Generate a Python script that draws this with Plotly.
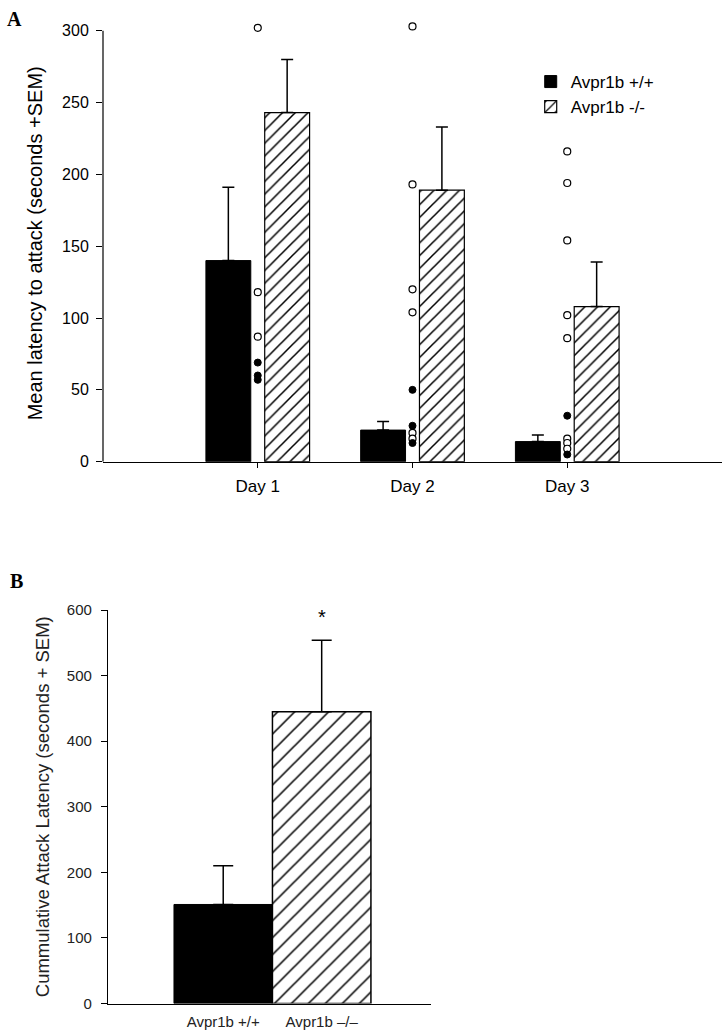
import plotly.graph_objects as go

# ---------------- data ----------------
days = ["Day 1", "Day 2", "Day 3"]
wt_mean = [140, 22, 14]
wt_sem = [51, 6, 4.5]
ko_mean = [243, 189, 108]
ko_sem = [37, 44, 31]

# individual animals (filled = +/+, open = -/-)
wt_points = {
    "Day 1": [69, 60, 57],
    "Day 2": [50, 25, 13],
    "Day 3": [32, 5],
}
ko_points = {
    "Day 1": [302, 118, 87],
    "Day 2": [303, 193, 120, 104, 20, 16],
    "Day 3": [216, 194, 154, 102, 86, 16, 13, 9],
}

groups_b = ["Avpr1b +/+", "Avpr1b \u2013/\u2013"]
cum_mean = [151, 445]
cum_sem = [59, 109]

legend_names = ["Avpr1b +/+", "Avpr1b -/-"]

FONT = "Liberation Sans, Arial, sans-serif"

fig = go.Figure()

# ---------------- panel A ----------------
fig.add_trace(go.Bar(
    x=days, y=wt_mean, name=legend_names[0], width=0.29, offset=-0.335,
    marker=dict(color="black", line=dict(color="black", width=1)),
    error_y=dict(type="data", symmetric=False, array=wt_sem, arrayminus=[0] * len(days),
                 color="black", thickness=1.5, width=6),
    xaxis="x", yaxis="y", showlegend=True,
))
fig.add_trace(go.Bar(
    x=days, y=ko_mean, name=legend_names[1], width=0.29, offset=0.045,
    marker=dict(color="white", line=dict(color="black", width=1.2),
                pattern=dict(shape="/", fgcolor="black", fgopacity=1, bgcolor="white",
                             size=9, solidity=0.17)),
    error_y=dict(type="data", symmetric=False, array=ko_sem, arrayminus=[0] * len(days),
                 color="black", thickness=1.5, width=6),
    xaxis="x", yaxis="y", showlegend=True,
))

wx, wy, kx, ky = [], [], [], []
for d in days:
    for v in wt_points[d]:
        wx.append(d); wy.append(v)
    for v in ko_points[d]:
        kx.append(d); ky.append(v)

fig.add_trace(go.Scatter(
    x=kx, y=ky, mode="markers", showlegend=False, cliponaxis=False,
    marker=dict(symbol="circle", size=7, color="white", line=dict(color="black", width=1.2)),
    xaxis="x", yaxis="y",
))
fig.add_trace(go.Scatter(
    x=wx, y=wy, mode="markers", showlegend=False, cliponaxis=False,
    marker=dict(symbol="circle", size=7, color="black", line=dict(color="black", width=1)),
    xaxis="x", yaxis="y",
))

# ---------------- panel B ----------------
fig.add_trace(go.Bar(
    x=[groups_b[0]], y=[cum_mean[0]], width=1.0, showlegend=False,
    marker=dict(color="black", line=dict(color="black", width=1)),
    error_y=dict(type="data", symmetric=False, array=[cum_sem[0]], arrayminus=[0],
                 color="black", thickness=1.5, width=10),
    xaxis="x2", yaxis="y2",
))
fig.add_trace(go.Bar(
    x=[groups_b[1]], y=[cum_mean[1]], width=1.0, showlegend=False,
    marker=dict(color="white", line=dict(color="black", width=1.5),
                pattern=dict(shape="/", fgcolor="black", fgopacity=1, bgcolor="white",
                             size=12, solidity=0.13)),
    error_y=dict(type="data", symmetric=False, array=[cum_sem[1]], arrayminus=[0],
                 color="black", thickness=1.5, width=10),
    xaxis="x2", yaxis="y2",
))

# y range of panel A extends slightly above 300 so points at the 300 s cutoff stay visible
A_TOP = 304
px_per_unit = (461.7 - 30.7) / 300
a_top_px = 30.7 - (A_TOP - 300) * px_per_unit

fig.update_layout(
    width=727, height=1031,
    margin=dict(l=0, r=0, t=0, b=0),
    paper_bgcolor="white", plot_bgcolor="white",
    font=dict(family=FONT, color="black"),
    barmode="overlay",
    showlegend=True,
    legend=dict(x=0.73, y=1 - 64 / 1031, xanchor="left", yanchor="top",
                font=dict(size=17, family=FONT, color="black"),
                bgcolor="rgba(0,0,0,0)", itemwidth=30, tracegroupgap=0),
    xaxis=dict(domain=[103 / 727, 722 / 727], anchor="y", type="category",
               categoryorder="array", categoryarray=days, range=[-1.0, 3.0],
               showline=True, linecolor="black", linewidth=1.2, showgrid=False,
               ticks="outside", ticklen=5, tickcolor="black", zeroline=False,
               automargin=False, ticklabelstandoff=4,
               tickfont=dict(size=17, family=FONT)),
    yaxis=dict(domain=[(1031 - 461.7) / 1031, (1031 - a_top_px) / 1031], anchor="x",
               range=[0, A_TOP], tickvals=[0, 50, 100, 150, 200, 250, 300],
               showline=False, showgrid=False,
               ticks="outside", ticklen=6, tickcolor="black", zeroline=False,
               automargin=False, ticklabelstandoff=4,
               tickfont=dict(size=16, family=FONT),
               title=dict(text="Mean latency to attack (seconds +SEM)",
                          font=dict(size=20, family=FONT), standoff=14)),
    xaxis2=dict(domain=[108 / 727, 431 / 727], anchor="y2", type="category",
                categoryorder="array", categoryarray=groups_b, range=[-1.17, 2.11],
                showline=True, linecolor="black", linewidth=1.2, showgrid=False,
                ticks="", zeroline=False, automargin=False, ticklabelstandoff=4,
                tickfont=dict(size=15, family=FONT, color="#222")),
    yaxis2=dict(domain=[(1031 - 1003.5) / 1031, (1031 - 610) / 1031], anchor="x2",
                range=[0, 600], tickvals=[0, 100, 200, 300, 400, 500, 600],
                showline=True, linecolor="black", linewidth=1.2, showgrid=False,
                ticks="outside", ticklen=6, tickcolor="black", zeroline=False,
                automargin=False, ticklabelstandoff=6,
                tickfont=dict(size=15, family=FONT, color="#222"),
                title=dict(text="Cummulative Attack Latency (seconds + SEM)",
                           font=dict(size=18.5, family=FONT, color="#222"), standoff=12)),
    shapes=[
        # panel A y-axis line, ending at the 300 tick
        dict(type="line", xref="x domain", yref="y", x0=0, x1=0, y0=0, y1=300,
             line=dict(color="black", width=1.2), layer="above"),
    ],
    annotations=[
        dict(text="<b>A</b>", x=5 / 727, y=1 - 6 / 1031, xref="paper", yref="paper",
             xanchor="left", yanchor="top", showarrow=False,
             font=dict(size=20, family="Liberation Serif, Times New Roman, serif", color="black")),
        dict(text="<b>B</b>", x=8 / 727, y=1 - 568 / 1031, xref="paper", yref="paper",
             xanchor="left", yanchor="top", showarrow=False,
             font=dict(size=20, family="Liberation Serif, Times New Roman, serif", color="black")),
        dict(text="*", x=groups_b[1], y=cum_mean[1] + cum_sem[1] + 35, xref="x2", yref="y2",
             showarrow=False, font=dict(size=20, family=FONT, color="black")),
    ],
)

fig.write_html(
    "out.html",
    config={"displayModeBar": False},
    post_script="document.body.style.margin='0';document.body.style.overflow='hidden';",
)
